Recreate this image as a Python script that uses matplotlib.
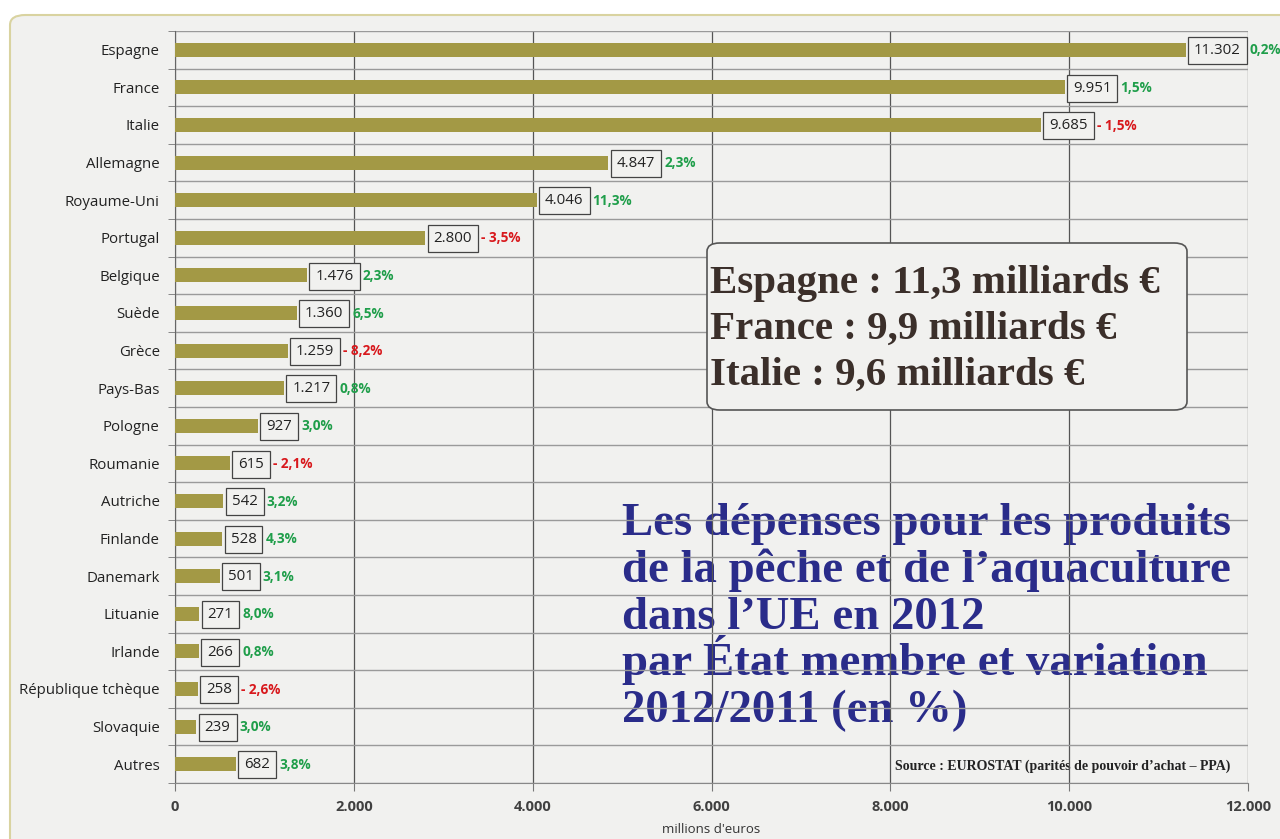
import matplotlib
matplotlib.use("Agg")
import matplotlib.pyplot as plt
from matplotlib.patches import FancyBboxPatch

countries = ["Espagne", "France", "Italie", "Allemagne", "Royaume-Uni", "Portugal",
             "Belgique", "Suède", "Grèce", "Pays-Bas", "Pologne", "Roumanie",
             "Autriche", "Finlande", "Danemark", "Lituanie", "Irlande",
             "République tchèque", "Slovaquie", "Autres"]
values = [11302, 9951, 9685, 4847, 4046, 2800, 1476, 1360, 1259, 1217, 927, 615,
          542, 528, 501, 271, 266, 258, 239, 682]
changes = [0.2, 1.5, -1.5, 2.3, 11.3, -3.5, 2.3, 6.5, -8.2, 0.8, 3.0, -2.1,
           3.2, 4.3, 3.1, 8.0, 0.8, -2.6, 3.0, 3.8]
xticks = [0, 2000, 4000, 6000, 8000, 10000, 12000]

BG = "#f1f1ef"
BAR = "#a39945"
GREEN = "#1f9e4a"
RED = "#d8181c"
NAVY = "#2a2c8a"
FONT = "Open Sans"

W, H = 1280, 839
fig = plt.figure(figsize=(12.8, 8.39), dpi=100)
fig.patch.set_facecolor("white")

# outer rounded frame
frame = FancyBboxPatch((10 / W, -0.05), 1.1, (839 - 15) / H + 0.05,
                       boxstyle="round,pad=0,rounding_size=0.012",
                       transform=fig.transFigure, facecolor=BG,
                       edgecolor="#d9d3a0", linewidth=1.5, zorder=-1)
fig.patches.append(frame)

ax = fig.add_axes([175 / W, 1 - 783 / H, (1248 - 175) / W, (783 - 31) / H])
ax.set_zorder(1)
ax.set_facecolor("none")

n = len(countries)
ypos = list(range(n))
ax.barh(ypos, values, height=0.37, color=BAR, zorder=3)
ax.set_ylim(n - 0.5, -0.5)
ax.set_xlim(0, 12000)

ax.set_xticks(xticks)
ax.set_xticklabels([f"{t:,}".replace(",", ".") for t in xticks],
                   fontfamily=FONT, fontsize=10.5, fontweight="bold", color="#404040")
ax.set_yticks(ypos)
ax.set_yticklabels(countries, fontfamily=FONT, fontsize=10.8, color="#222222")
ax.set_yticks([i - 0.5 for i in range(n + 1)], minor=True)
ax.tick_params(axis="y", which="major", length=0, pad=11)
ax.tick_params(axis="y", which="minor", length=5, color="#777777", direction="out")
ax.tick_params(axis="x", which="major", length=6, color="#777777", direction="out", pad=6)
ax.grid(axis="x", which="major", color="#555555", linewidth=0.9, zorder=1)
ax.grid(axis="y", which="minor", color="#9a9a9a", linewidth=1.0, zorder=1)
ax.set_axisbelow(True)
for s in ["top", "right"]:
    ax.spines[s].set_visible(False)
ax.spines["left"].set_color("#666666")
ax.spines["bottom"].set_color("#888888")

ax.set_xlabel("millions d'euros", fontfamily=FONT, fontsize=9.5, color="#333333", labelpad=7)

for i, (v, c) in enumerate(zip(values, changes)):
    lbl = f"{v:,}".replace(",", ".")
    t = ax.annotate(lbl, xy=(v, i), xytext=(6, -0.5), textcoords="offset points",
                    va="center", ha="left", fontfamily=FONT, fontsize=10.8, color="#222222",
                    bbox=dict(boxstyle="square,pad=0.4", facecolor=BG,
                              edgecolor="#444444", linewidth=0.9),
                    zorder=5, annotation_clip=False)
    s = f"{abs(c):.1f}".replace(".", ",") + "%"
    if c < 0:
        s = "- " + s
    ax.annotate(s, xy=(1, 0.5), xycoords=t, xytext=(6.5, 0), textcoords="offset points",
                va="center", ha="left", fontfamily=FONT, fontsize=9.8,
                fontweight="bold", color=RED if c < 0 else GREEN,
                zorder=5, annotation_clip=False)

# summary box
box = FancyBboxPatch((707 / W, 1 - 410 / H), (1187 - 707) / W, (410 - 243) / H,
                     boxstyle="round,pad=0,rounding_size=0.01",
                     transform=fig.transFigure, facecolor=BG,
                     edgecolor="#555555", linewidth=1.2, zorder=6)
fig.patches.append(box)
summary = ["Espagne : 11,3 milliards €", "France : 9,9 milliards €", "Italie : 9,6 milliards €"]
for k, line in enumerate(summary):
    fig.text(710 / W, 1 - (293 + 46 * k) / H, line, fontfamily="Liberation Serif",
             fontsize=29.5, fontweight="bold", color="#3b2f2a", va="baseline", ha="left",
             zorder=7)

title_lines = ["Les dépenses pour les produits", "de la pêche et de l’aquaculture",
               "dans l’UE en 2012", "par État membre et variation", "2012/2011 (en %)"]
for k, line in enumerate(title_lines):
    fig.text(622 / W, 1 - (535 + 46.8 * k) / H, line, fontfamily="Liberation Serif",
             fontsize=33.7, fontweight="bold", color=NAVY, va="baseline", ha="left",
             zorder=0.5)

fig.text(1230 / W, 1 - 766 / H, "Source : EUROSTAT (parités de pouvoir d’achat – PPA)",
         fontfamily="Liberation Serif", fontsize=10, fontweight="bold", color="#222222",
         va="center", ha="right", zorder=0.5)

fig.savefig("out.png", dpi=100, facecolor=fig.get_facecolor())
